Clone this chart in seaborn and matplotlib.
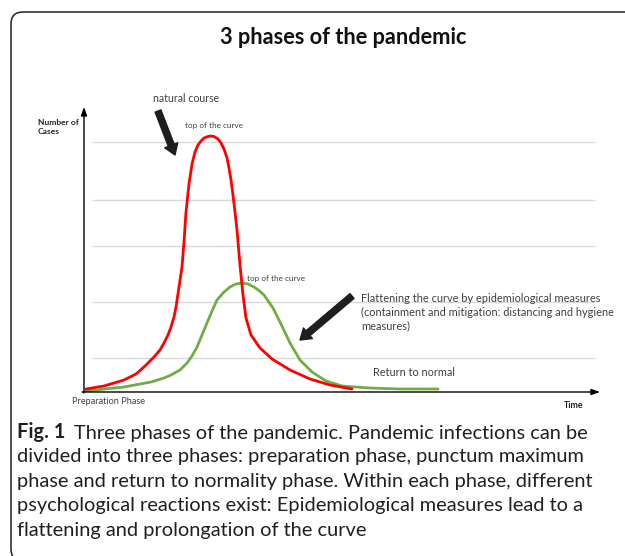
import numpy as np
import pandas as pd
import matplotlib
matplotlib.use("Agg")
import matplotlib.pyplot as plt
from matplotlib.patches import FancyBboxPatch
import seaborn as sns

# ---- data (x: time, y: number of cases; arbitrary units) ----
red_x = [2, 20, 40, 52, 60, 70, 76, 80, 84, 87, 90, 92, 95, 98, 100, 102, 105,
         108, 111, 114, 117, 120, 124, 127, 130, 134, 137, 140, 143, 145, 147,
         149, 151, 153, 156, 159, 162, 167, 176, 188, 206, 226, 246, 268]
red_y = [3, 6, 12, 18, 25, 35, 42, 49, 57, 65, 75, 85, 105, 125, 150, 180, 208,
         228, 240, 247, 251, 254, 255.5, 256, 255.5, 253, 249, 243, 234, 224, 212,
         197, 180, 162, 127, 97, 74, 57, 44, 33, 22, 13, 7, 3]
green_x = [2, 40, 67, 80, 87, 96, 103, 108, 113, 118, 123, 128, 133, 140, 146,
           152, 158, 164, 170, 175, 180, 189, 197, 206, 216, 228, 242, 258, 286,
           316, 354]
green_y = [1, 5, 10, 14, 17, 22, 29, 36, 45, 57, 69, 81, 92, 100, 105,
           108, 109, 108, 105, 101.5, 97, 84, 68, 49, 32, 20, 11, 6, 4,
           3, 3]
grid_levels = [34, 90, 146, 192, 250]

title = "3 phases of the pandemic"
caption_bold = "Fig. 1"
caption_lines = [
    "Three phases of the pandemic. Pandemic infections can be",
    "divided into three phases: preparation phase, punctum maximum",
    "phase and return to normality phase. Within each phase, different",
    "psychological reactions exist: Epidemiological measures lead to a",
    "flattening and prolongation of the curve",
]

sns.set_theme(style="white")
plt.rcParams["font.family"] = ["Lato", "DejaVu Sans"]

W, H = 625, 556
fig = plt.figure(figsize=(W / 100, H / 100), dpi=100)
fig.patch.set_facecolor("white")

# axes area in pixel terms
left, right, bottom, top = 84, 600, 392, 107
ax = fig.add_axes([left / W, (H - bottom) / H, (right - left) / W, (bottom - top) / H])

# grid lines
ax.hlines(grid_levels, 8, 511, color="#d9d9d9", lw=1.0, zorder=1)

df_red = pd.DataFrame({"x": red_x, "y": red_y})
df_green = pd.DataFrame({"x": green_x, "y": green_y})
sns.lineplot(data=df_green, x="x", y="y", ax=ax, color="#70ad47", lw=2.0,
             estimator=None, sort=False, zorder=3)
sns.lineplot(data=df_red, x="x", y="y", ax=ax, color="#ff0000", lw=2.0,
             estimator=None, sort=False, zorder=4)
for ln in ax.lines:
    ln.set_solid_joinstyle("round")
ax.set_xlim(0, right - left)
ax.set_ylim(0, bottom - top)
ax.axis("off")

# axes arrows
axis_arrow = dict(arrowstyle="-|>,head_length=0.5,head_width=0.18", color="black",
                  lw=1.0, shrinkA=0, shrinkB=0, mutation_scale=10)
ax.annotate("", xy=(0, 285), xytext=(0, -1), arrowprops=axis_arrow,
            annotation_clip=False, zorder=5)
ax.annotate("", xy=(516, 0), xytext=(-2, 0), arrowprops=axis_arrow,
            annotation_clip=False, zorder=5)

# block arrows
block = dict(arrowstyle="simple,head_length=0.75,head_width=1.0,tail_width=0.45",
             fc="#1e1e1e", ec="#1e1e1e", shrinkA=0, shrinkB=0, mutation_scale=10)
ax.annotate("", xy=(91, 237), xytext=(74, 281), arrowprops=block, annotation_clip=False)
ax.annotate("", xy=(216, 52), xytext=(268, 96), arrowprops=block, annotation_clip=False)

lab = "#404040"
ax.text(102, 293, "natural course", fontsize=7.6, color=lab, ha="center", va="center")
ax.text(130, 266, "top of the curve", fontsize=5.9, color=lab, ha="center", va="center")
ax.text(192, 114, "top of the curve", fontsize=5.9, color=lab, ha="center", va="center")
ax.text(277, 80, "Flattening the curve by epidemiological measures\n"
                 "(containment and mitigation: distancing and hygiene\n"
                 "measures)", fontsize=7.9, color=lab, ha="left", va="center",
        linespacing=1.3)
ax.text(289, 19, "Return to normal", fontsize=7.8, color=lab, ha="left", va="center")
ax.text(-12, -9, "Preparation Phase", fontsize=6.6, color=lab, ha="left", va="center")
ax.text(480, -13, "Time", fontsize=6.3, color="#222222", weight="bold", ha="left", va="center")
ax.text(-46, 265, "Number of\nCases", fontsize=6.1, color="#222222", weight="bold",
        ha="left", va="center", linespacing=1.45)

# title
fig.text(343 / W, 1 - 37 / H, title, fontsize=15.7, weight="bold", color="#111111",
         ha="center", va="center")

# caption
cap_size = 14.4
y0 = 432
t = fig.text(17 / W, 1 - y0 / H, caption_bold, fontsize=cap_size, weight="bold",
             color="#231f20", ha="left", va="center")
ax.annotate(caption_lines[0], xy=(1, 0), xycoords=t, xytext=(6, 0),
            textcoords="offset points", fontsize=cap_size, color="#231f20",
            ha="left", va="bottom", annotation_clip=False)
for i, line in enumerate(caption_lines[1:], start=1):
    fig.text(17 / W, 1 - (y0 + 24.6 * i) / H, line, fontsize=cap_size,
             color="#231f20", ha="left", va="center")

# panel border (right and bottom edges fall outside the picture)
border = FancyBboxPatch((11, -5), 700, H - 7, boxstyle="round,pad=0,rounding_size=12",
                        transform=None, fc="none", ec="#222222", lw=1.1)
fig.add_artist(border)

fig.savefig("out.png", dpi=100)
